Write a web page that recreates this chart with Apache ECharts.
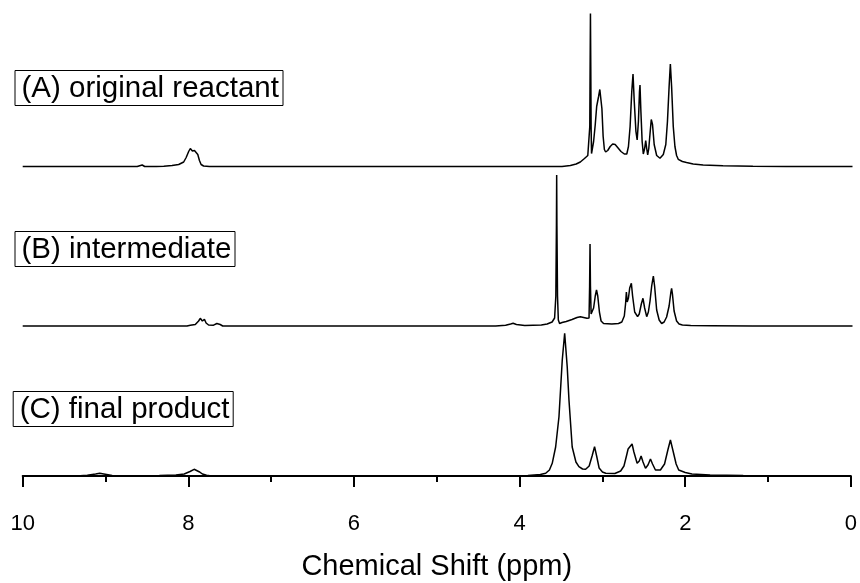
<!DOCTYPE html>
<html>
<head>
<meta charset="utf-8">
<script src="https://cdn.jsdelivr.net/npm/echarts@6/dist/echarts.min.js"></script>
<style>html,body{margin:0;padding:0;background:#fff}#c{width:860px;height:583px}</style>
</head>
<body>
<div id="c"></div>
<script>
// Spectrum labels and axis title
var traceLabels = ['(A) original reactant', '(B) intermediate', '(C) final product'];
var axisTitle = 'Chemical Shift (ppm)';

// [chemical shift (ppm), intensity (arbitrary units)]
var traceA = [[10,0],[8.62,0],[8.56,1.5],[8.53,0],[8.43,0],[8.41,1],[8.39,0],[8.30,0.3],[8.20,1],[8.12,2],[8.06,4.5],[8.03,9],[8.00,15],[7.98,18],[7.955,15.5],[7.93,16],[7.91,16.5],[7.89,12],[7.87,6],[7.85,2],[7.82,0.5],[7.75,0],
[3.50,0],[3.40,1],[3.33,2.5],[3.28,4.5],[3.23,8],[3.19,11],[3.172,12],[3.166,40],[3.162,100],[3.158,153],[3.154,100],[3.150,40],[3.145,13],[3.14,14],[3.12,25],[3.10,42],[3.083,60],[3.06,70],[3.045,77],[3.035,76],[3.02,58],[3.005,30],[2.99,17],[2.975,14.5],[2.95,16],[2.92,20],[2.89,22.5],[2.86,22],[2.83,19],[2.79,15],[2.75,12.5],[2.72,12.5],[2.70,20],[2.68,40],[2.66,75],[2.645,92.5],[2.63,65],[2.61,35],[2.595,26.5],[2.58,45],[2.567,75],[2.561,81.5],[2.55,55],[2.535,25],[2.521,12.5],[2.505,18],[2.492,25.8],[2.48,18],[2.468,11.5],[2.455,18],[2.44,33],[2.425,47],[2.41,42],[2.39,22],[2.36,11],[2.32,8.2],[2.28,12],[2.25,22],[2.23,45],[2.21,80],[2.195,102.5],[2.18,80],[2.16,40],[2.14,20],[2.12,11],[2.10,7.2],[2.05,5],[2.00,4],[1.92,2.5],[1.80,1.5],[1.56,0.8],[1.20,0.3],[0.80,0],[0,0]];

var traceB = [[10,0],[8.02,0],[7.98,0.8],[7.92,1.5],[7.88,5],[7.86,7.7],[7.835,5],[7.81,6.7],[7.79,3],[7.76,1],[7.70,0.8],[7.66,2.5],[7.64,4.3],[7.62,1.5],[7.59,0],
[4.30,0],[4.18,0.8],[4.12,2],[4.09,2.7],[4.05,1.5],[3.95,0.5],[3.75,1],[3.68,2],[3.62,4],[3.59,8],[3.575,30],[3.568,100],[3.565,151],[3.562,100],[3.555,30],[3.545,6],[3.53,2.5],[3.50,3.5],[3.45,4.5],[3.38,6.5],[3.32,8.5],[3.28,9.3],[3.24,8.5],[3.20,7.7],[3.175,8],[3.168,40],[3.163,82],[3.158,40],[3.15,12],[3.12,18],[3.10,30],[3.085,36],[3.07,30],[3.05,14],[3.03,5],[3.00,2.5],[2.90,2],[2.82,2.5],[2.78,4],[2.75,10],[2.735,22],[2.725,34],[2.715,24],[2.70,28],[2.685,38],[2.665,42.7],[2.65,30],[2.625,14],[2.59,9.3],[2.57,12],[2.545,22],[2.525,27.7],[2.505,18],[2.48,9.3],[2.46,14],[2.44,25],[2.42,40],[2.40,50],[2.385,40],[2.36,16],[2.33,6],[2.30,2.5],[2.27,4],[2.24,9],[2.21,20],[2.19,33],[2.18,37.7],[2.17,32],[2.15,15],[2.12,5],[2.09,2],[2.05,1],[1.95,0.5],[1.70,0.3],[1.20,0],[0,0]];

var traceC = [[10,0],[9.35,0],[9.22,0.8],[9.12,2],[9.07,2.7],[9.02,2],[8.92,0.5],[8.85,0],[8.35,0.5],[8.15,1],[8.05,2],[7.98,4.5],[7.93,6.7],[7.90,5.5],[7.87,4.3],[7.83,2],[7.78,0.8],[7.72,0],
[3.90,0.5],[3.75,1.5],[3.685,2.7],[3.64,6],[3.606,12.7],[3.565,29],[3.525,59],[3.485,116],[3.456,142.7],[3.425,109],[3.404,76],[3.365,29],[3.32,14],[3.284,9.3],[3.24,7],[3.203,6.7],[3.16,10],[3.125,20],[3.095,29.3],[3.07,20],[3.04,8],[3.00,4],[2.96,2.7],[2.85,2.5],[2.78,5],[2.74,10],[2.71,20],[2.69,27],[2.675,26],[2.642,32],[2.62,24],[2.581,12.7],[2.555,15],[2.533,20],[2.51,14],[2.48,7.7],[2.45,11],[2.42,17],[2.395,12],[2.36,6],[2.30,6],[2.25,12],[2.21,26],[2.179,36],[2.15,26],[2.11,12],[2.079,6],[2.00,3.5],[1.919,2],[1.70,1],[1.30,0.5],[0,0]];

var traces = [traceA, traceB, traceC];

var FONT = '"Liberation Sans", Arial, sans-serif';
var chart = echarts.init(document.getElementById('c'), null, {renderer: 'canvas'});

var L = 22.7, R = 7.5;
var grids = [
  {left: L, right: R, top: 10, bottom: 416.5},
  {left: L, right: R, top: 170, bottom: 257},
  {left: L, right: R, top: 326, bottom: 91}
];
var yRanges = [[0, 156.5], [0, 156], [-16, 150]];
var labelPos = [[14.5, 70], [14.5, 231], [12.7, 391]];

var xAxes = grids.map(function (g, i) {
  var show = (i === 2);
  return {
    gridIndex: i, type: 'value', min: 0, max: 10, interval: 2, inverse: true,
    show: show,
    axisLine: {show: show, lineStyle: {color: '#000', width: 2}},
    axisTick: {show: show, length: 11, lineStyle: {color: '#000', width: 2}},
    minorTick: {show: show, splitNumber: 2, length: 6, lineStyle: {color: '#000', width: 2}},
    splitLine: {show: false},
    axisLabel: {show: show, color: '#000', fontSize: 22, fontFamily: FONT, margin: 21},
    name: show ? axisTitle : '',
    nameLocation: 'middle', nameGap: 60,
    nameTextStyle: {color: '#000', fontSize: 29, fontFamily: FONT}
  };
});
var yAxes = grids.map(function (g, i) {
  return {gridIndex: i, type: 'value', min: yRanges[i][0], max: yRanges[i][1], show: false, splitLine: {show: false}};
});

var titles = traceLabels.map(function (t, i) {
  return {
    text: t, left: labelPos[i][0], top: labelPos[i][1],
    borderColor: '#000', borderWidth: 1, padding: [3, 4, 2, 7],
    textStyle: {color: '#000', fontSize: 29.5, fontWeight: 'normal', fontFamily: FONT, lineHeight: 31}
  };
});

var series = traces.map(function (d, i) {
  return {
    type: 'line', xAxisIndex: i, yAxisIndex: i, data: d,
    showSymbol: false, symbol: 'none', smooth: false,
    lineStyle: {color: '#000', width: 1.5},
    silent: true, clip: false
  };
});

chart.setOption({
  backgroundColor: '#fff',
  animation: false,
  title: titles,
  grid: grids,
  xAxis: xAxes,
  yAxis: yAxes,
  series: series
});
</script>
</body>
</html>
